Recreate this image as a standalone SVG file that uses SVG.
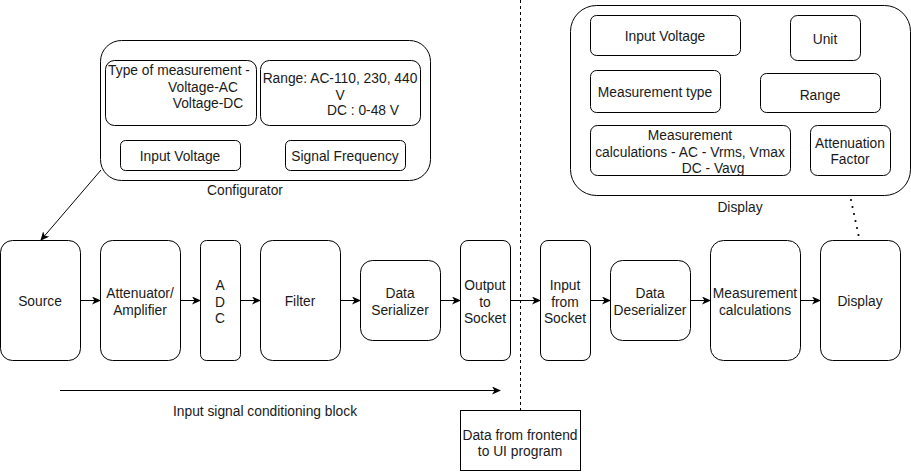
<svg xmlns="http://www.w3.org/2000/svg" width="911" height="472" viewBox="0 0 911 472">
<defs>
<marker id="arr" markerWidth="10" markerHeight="10" refX="8" refY="4" orient="auto" markerUnits="userSpaceOnUse">
<path d="M0,0 L9,4 L0,8 L2.5,4 Z" fill="#000"/>
</marker>
<style>
.b{fill:#fff;stroke:#000;stroke-width:1}
.t{font-family:"Liberation Sans",Arial,sans-serif;font-size:13.8px;fill:#1a1a1a;text-anchor:middle}
.c{stroke:#000;stroke-width:1;fill:none}
.a{marker-end:url(#arr)}
.d{fill:#000}
</style>
</defs>
<rect width="911" height="472" fill="#fff"/>

<g id="connectors">
<line class="c" x1="520.5" y1="0" x2="520.5" y2="410" stroke-dasharray="3 3"/>
<line class="c a" x1="101" y1="170" x2="41" y2="240"/>
<line class="c a" x1="80" y1="300.5" x2="100" y2="300.5"/>
<line class="c a" x1="180" y1="300.5" x2="200" y2="300.5"/>
<line class="c a" x1="240" y1="300.5" x2="260" y2="300.5"/>
<line class="c a" x1="340" y1="300.5" x2="360" y2="300.5"/>
<line class="c a" x1="440" y1="300.5" x2="460" y2="300.5"/>
<line class="c a" x1="510" y1="300.5" x2="540" y2="300.5"/>
<line class="c a" x1="590" y1="300.5" x2="610" y2="300.5"/>
<line class="c a" x1="690" y1="300.5" x2="710" y2="300.5"/>
<line class="c a" x1="800" y1="300.5" x2="820" y2="300.5"/>
<line class="c a" x1="60" y1="390.5" x2="500" y2="390.5"/>
<g id="dotted-link">
<circle class="d" cx="851" cy="200" r="1.1"/>
<circle class="d" cx="852.5" cy="207" r="1.1"/>
<circle class="d" cx="854" cy="214" r="1.1"/>
<circle class="d" cx="855.5" cy="221" r="1.1"/>
<circle class="d" cx="857" cy="228" r="1.1"/>
<circle class="d" cx="858.5" cy="235" r="1.1"/>
</g>
</g>

<g id="configurator">
<rect class="b" x="100.5" y="40.5" width="330" height="140" rx="21"/>
<text class="t" x="245" y="195">Configurator</text>
</g>
<g id="cfg-type">
<rect class="b" x="105.5" y="60.5" width="151" height="65" rx="9"/>
<text class="t" x="179" y="75">Type of measurement -</text>
<text class="t" x="203" y="92">Voltage-AC</text>
<text class="t" x="208" y="108">Voltage-DC</text>
</g>
<g id="cfg-range">
<rect class="b" x="260.5" y="60.5" width="160" height="65" rx="9"/>
<text class="t" x="340" y="83">Range: AC-110, 230, 440</text>
<text class="t" x="340" y="100">V</text>
<text class="t" x="363" y="115">DC : 0-48 V</text>
</g>
<g id="cfg-input">
<rect class="b" x="120.5" y="140.5" width="120" height="30" rx="5"/>
<text class="t" x="180" y="161">Input Voltage</text>
</g>
<g id="cfg-freq">
<rect class="b" x="285.5" y="140.5" width="120" height="30" rx="5"/>
<text class="t" x="345" y="161">Signal Frequency</text>
</g>

<g id="display-panel">
<rect class="b" x="570.5" y="5.5" width="340" height="190" rx="26"/>
<text class="t" x="740" y="212">Display</text>
</g>
<g id="dp-input">
<rect class="b" x="590.5" y="15.5" width="150" height="40" rx="6"/>
<text class="t" x="665" y="41">Input Voltage</text>
</g>
<g id="dp-unit">
<rect class="b" x="790.5" y="15.5" width="70" height="45" rx="7"/>
<text class="t" x="825" y="44">Unit</text>
</g>
<g id="dp-mtype">
<rect class="b" x="590.5" y="70.5" width="130" height="42" rx="6"/>
<text class="t" x="655" y="97">Measurement type</text>
</g>
<g id="dp-range">
<rect class="b" x="760.5" y="73.5" width="120" height="39" rx="6"/>
<text class="t" x="820" y="100">Range</text>
</g>
<g id="dp-calc">
<rect class="b" x="590.5" y="125.5" width="200" height="50" rx="7"/>
<text class="t" x="690" y="140">Measurement</text>
<text class="t" x="690" y="157">calculations - AC - Vrms, Vmax</text>
<text class="t" x="713" y="173">DC - Vavg</text>
</g>
<g id="dp-atten">
<rect class="b" x="810.5" y="125.5" width="80" height="50" rx="7"/>
<text class="t" x="850" y="148">Attenuation</text>
<text class="t" x="850" y="164">Factor</text>
</g>

<g id="source">
<rect class="b" x="0.5" y="240.5" width="80" height="120" rx="12"/>
<text class="t" x="40" y="306">Source</text>
</g>
<g id="attenuator">
<rect class="b" x="100.5" y="240.5" width="80" height="120" rx="12"/>
<text class="t" x="140" y="298">Attenuator/</text>
<text class="t" x="140" y="315">Amplifier</text>
</g>
<g id="adc">
<rect class="b" x="200.5" y="240.5" width="40" height="120" rx="6"/>
<text class="t" x="220" y="290">A</text>
<text class="t" x="220" y="307">D</text>
<text class="t" x="220" y="323">C</text>
</g>
<g id="filter">
<rect class="b" x="260.5" y="240.5" width="80" height="120" rx="12"/>
<text class="t" x="300" y="306">Filter</text>
</g>
<g id="serializer">
<rect class="b" x="360.5" y="260.5" width="80" height="80" rx="12"/>
<text class="t" x="400" y="298">Data</text>
<text class="t" x="400" y="315">Serializer</text>
</g>
<g id="output-socket">
<rect class="b" x="460.5" y="240.5" width="50" height="120" rx="7.5"/>
<text class="t" x="485" y="290">Output</text>
<text class="t" x="485" y="307">to</text>
<text class="t" x="485" y="323">Socket</text>
</g>
<g id="input-socket">
<rect class="b" x="540.5" y="240.5" width="50" height="120" rx="7.5"/>
<text class="t" x="565" y="290">Input</text>
<text class="t" x="565" y="307">from</text>
<text class="t" x="565" y="323">Socket</text>
</g>
<g id="deserializer">
<rect class="b" x="610.5" y="260.5" width="80" height="80" rx="12"/>
<text class="t" x="650" y="298">Data</text>
<text class="t" x="650" y="315">Deserializer</text>
</g>
<g id="calculations">
<rect class="b" x="710.5" y="240.5" width="90" height="120" rx="13"/>
<text class="t" x="755" y="298">Measurement</text>
<text class="t" x="755" y="315">calculations</text>
</g>
<g id="display">
<rect class="b" x="820.5" y="240.5" width="80" height="120" rx="12"/>
<text class="t" x="860" y="306">Display</text>
</g>

<g id="isc-label">
<text class="t" x="265" y="416">Input signal conditioning block</text>
</g>
<g id="frontend">
<rect class="b" x="460.5" y="410.5" width="120" height="60"/>
<text class="t" x="520" y="440">Data from frontend</text>
<text class="t" x="520" y="456">to UI program</text>
</g>
</svg>
